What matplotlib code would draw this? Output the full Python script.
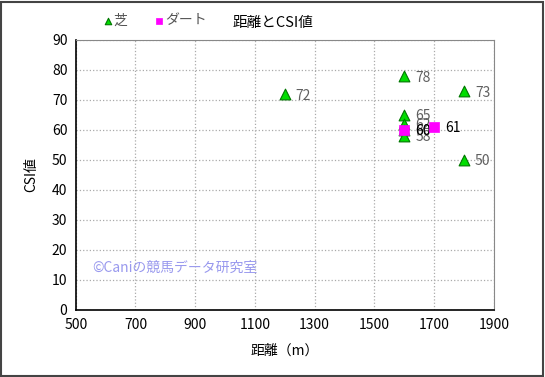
import matplotlib.pyplot as plt

plt.rcParams['font.family'] = ['Noto Sans CJK JP', 'DejaVu Sans']
plt.rcParams['font.size'] = 10

# 芝 (turf)
turf_dist = [1200, 1600, 1800, 1600, 1600, 1600, 1600, 1800]
turf_csi = [72, 78, 73, 65, 62, 60, 58, 50]
# ダート (dirt)
dirt_dist = [1600, 1700]
dirt_csi = [60, 61]

x_ticks = [500, 700, 900, 1100, 1300, 1500, 1700, 1900]
y_ticks = [0, 10, 20, 30, 40, 50, 60, 70, 80, 90]

fig = plt.figure(figsize=(5.45, 3.77), dpi=100)
ax = fig.add_axes([0.139, 0.178, 0.767, 0.716])

ax.scatter(turf_dist, turf_csi, marker='^', s=60, color='#00dd00',
           edgecolor='#007700', linewidth=0.8, zorder=3, label='芝')
ax.scatter(dirt_dist, dirt_csi, marker='s', s=50, color='#ff00ff',
           edgecolor='#ff00ff', linewidth=0.5, zorder=4, label='ダート')

for x, y in zip(turf_dist, turf_csi):
    ax.annotate(str(y), (x, y), xytext=(8, -4), textcoords='offset points',
                color='#606060', fontsize=10)
for x, y in zip(dirt_dist, dirt_csi):
    ax.annotate(str(y), (x, y), xytext=(8, -4), textcoords='offset points',
                color='black', fontsize=10)

ax.set_xlim(500, 1900)
ax.set_ylim(0, 90)
ax.set_xticks(x_ticks)
ax.set_yticks(y_ticks)
ax.grid(True, linestyle=':', color='#aaaaaa', linewidth=0.9)
ax.set_axisbelow(True)
for side in ['top', 'right']:
    ax.spines[side].set_color('#888888')
for side in ['left', 'bottom']:
    ax.spines[side].set_color('black')
    ax.spines[side].set_linewidth(1.2)
ax.tick_params(length=0, pad=6)

ax.set_xlabel('距離（m）', labelpad=8)
ax.set_ylabel('CSI値', labelpad=10)

ax.text(0.04, 0.14, '©Caniの競馬データ研究室', transform=ax.transAxes,
        color='#9999ee', fontsize=10)

fig.text(0.5, 0.94, '距離とCSI値', ha='center', va='center', fontsize=10.5)
fig.legend(loc='center left', bbox_to_anchor=(0.16, 0.946), ncol=2,
           frameon=False, handletextpad=-0.2, columnspacing=1.7,
           handlelength=1.2, markerscale=0.6, labelcolor='#555555',
           fontsize=10)

fig.patches.append(plt.Rectangle((0.002, 0.003), 0.995, 0.993,
                                 transform=fig.transFigure, fill=False,
                                 edgecolor='#444444', linewidth=1.5))

plt.savefig('out.png', dpi=100)
